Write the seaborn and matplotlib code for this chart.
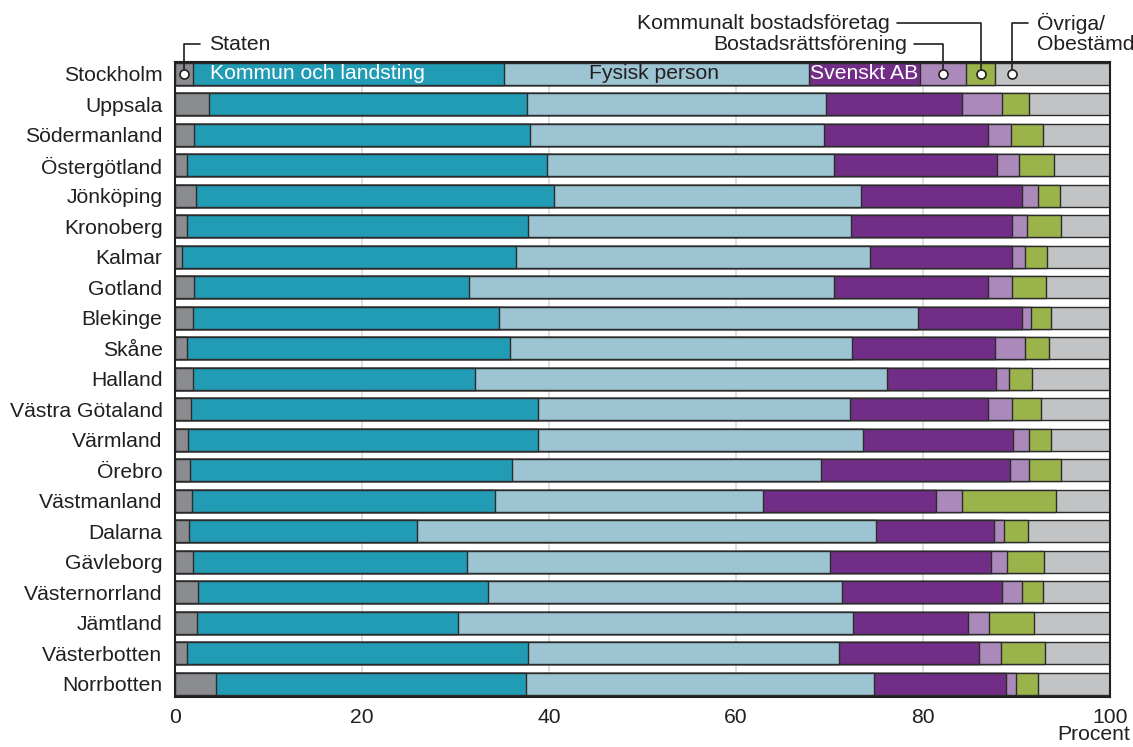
import pandas as pd
import numpy as np
import matplotlib
matplotlib.use('Agg')
import matplotlib.pyplot as plt
import seaborn as sns

regions = ['Stockholm', 'Uppsala', 'Södermanland', 'Östergötland', 'Jönköping',
           'Kronoberg', 'Kalmar', 'Gotland', 'Blekinge', 'Skåne', 'Halland',
           'Västra Götaland', 'Värmland', 'Örebro', 'Västmanland', 'Dalarna',
           'Gävleborg', 'Västernorrland', 'Jämtland', 'Västerbotten', 'Norrbotten']

staten = [1.9, 3.6, 2.0, 1.3, 2.2, 1.3, 0.8, 2.0, 1.9, 1.3, 1.9,
          1.7, 1.4, 1.6, 1.8, 1.5, 1.9, 2.5, 2.3, 1.3, 4.4]
kommun = [33.3, 34.0, 36.0, 38.5, 38.3, 36.5, 35.7, 29.4, 32.7, 34.5, 30.2,
          37.1, 37.4, 34.4, 32.4, 24.4, 29.3, 31.0, 28.0, 36.5, 33.1]
fysisk = [32.6, 32.0, 31.4, 30.7, 32.9, 34.5, 37.8, 39.1, 44.9, 36.6, 44.0,
          33.4, 34.8, 33.1, 28.7, 49.1, 38.8, 37.8, 42.2, 33.2, 37.3]
svenskt_ab = [11.9, 14.6, 17.6, 17.4, 17.2, 17.2, 15.2, 16.4, 11.1, 15.3, 11.7,
              14.7, 16.0, 20.2, 18.5, 12.6, 17.3, 17.2, 12.3, 15.0, 14.1]
brf = [4.9, 4.2, 2.4, 2.4, 1.7, 1.6, 1.4, 2.6, 0.9, 3.2, 1.4,
       2.6, 1.7, 2.0, 2.8, 1.1, 1.7, 2.1, 2.3, 2.3, 1.1]
kommunalt = [3.1, 2.9, 3.4, 3.7, 2.4, 3.7, 2.4, 3.7, 2.2, 2.6, 2.5,
             3.1, 2.4, 3.5, 10.0, 2.5, 3.9, 2.2, 4.8, 4.8, 2.3]
ovriga = [12.3, 8.7, 7.2, 6.0, 5.3, 5.2, 6.7, 6.8, 6.3, 6.5, 8.3,
          7.4, 6.3, 5.2, 5.8, 8.8, 7.1, 7.2, 8.1, 6.9, 7.7]

categories = ['Staten', 'Kommun och landsting', 'Fysisk person', 'Svenskt AB',
              'Bostadsrättsförening', 'Kommunalt bostadsföretag', 'Övriga/Obestämd']
colors = ['#8b8c8f', '#219cb4', '#9cc4d2', '#722e87', '#ab89ba', '#9ab34b', '#c2c3c4']

df = pd.DataFrame({'lan': regions, 'Staten': staten, 'Kommun och landsting': kommun,
                   'Fysisk person': fysisk, 'Svenskt AB': svenskt_ab,
                   'Bostadsrättsförening': brf, 'Kommunalt bostadsföretag': kommunalt,
                   'Övriga/Obestämd': ovriga})
cum = df[categories].cumsum(axis=1)
cum['lan'] = df['lan']

sns.set_theme(style='white')
plt.rcParams['font.family'] = ['Liberation Sans', 'DejaVu Sans']
txt = '#231f20'

fig = plt.figure(figsize=(11.33, 7.47), dpi=100)
ax = fig.add_axes([175/1133, 1-697/747, 935/1133, 635/747])

# stacked bars: draw cumulative totals from largest to smallest
for cat, col in reversed(list(zip(categories, colors))):
    sns.barplot(data=cum, x=cat, y='lan', order=regions, color=col, saturation=1,
                width=0.72, edgecolor='#2b2b2b', linewidth=1, ax=ax, zorder=3)

ax.set_xlim(0, 100)
ax.set_ylim(20.43, -0.39)
ax.set_xlabel('')
ax.set_ylabel('')
ax.set_xticks([0, 20, 40, 60, 80, 100])
ax.set_axisbelow(True)
ax.xaxis.grid(True, color='#dadada', lw=1.2)
ax.yaxis.grid(False)
ax.tick_params(axis='both', length=0, labelsize=15.2, colors=txt)
ax.tick_params(axis='y', pad=9)
ax.tick_params(axis='x', pad=8)
for s in ax.spines.values():
    s.set_color('#231f20')
    s.set_linewidth(1.5)
    s.set_zorder(6)

# labels inside the Stockholm bar
s0 = cum.iloc[0]
ax.text(s0['Staten'] + 1.85, 0, 'Kommun och landsting', color='white', fontsize=15.2,
        ha='left', va='center', zorder=7)
ax.text((s0['Kommun och landsting'] + s0['Fysisk person']) / 2 - 0.3, 0, 'Fysisk person',
        color=txt, fontsize=15.2, ha='center', va='center', zorder=7)
ax.text((s0['Fysisk person'] + s0['Svenskt AB']) / 2, 0, 'Svenskt AB', color='white',
        fontsize=15.2, ha='center', va='center', zorder=7)

# callouts with small circles
x_staten = s0['Staten'] / 2
x_brf = (s0['Svenskt AB'] + s0['Bostadsrättsförening']) / 2
x_kom = (s0['Bostadsrättsförening'] + s0['Kommunalt bostadsföretag']) / 2
x_ovr = s0['Kommunalt bostadsföretag'] + 1.8
y_low, y_high = -0.98, -1.66

ax.plot([x_staten, x_staten, 2.7], [-0.15, y_low, y_low], color=txt, lw=1.2, clip_on=False, zorder=7)
ax.text(3.6, y_low, 'Staten', color=txt, fontsize=15.2, ha='left', va='center')

ax.plot([x_brf, x_brf, 79.0], [-0.15, y_low, y_low], color=txt, lw=1.2, clip_on=False, zorder=7)
ax.text(78.3, y_low, 'Bostadsrättsförening', color=txt, fontsize=15.2, ha='right', va='center')

ax.plot([x_kom, x_kom, 77.2], [-0.15, y_high, y_high], color=txt, lw=1.2, clip_on=False, zorder=7)
ax.text(76.4, y_high, 'Kommunalt bostadsföretag', color=txt, fontsize=15.2, ha='right', va='center')

ax.plot([x_ovr, x_ovr, 91.2], [-0.15, y_high, y_high], color=txt, lw=1.2, clip_on=False, zorder=7)
ax.text(92.2, y_high - 0.33, 'Övriga/\nObestämd', color=txt, fontsize=15.2, ha='left', va='top',
        linespacing=1.05)

ax.plot([x_staten, x_brf, x_kom, x_ovr], [0, 0, 0, 0], 'o', ms=6.5, mfc='white',
        mec=txt, mew=1.2, zorder=8, clip_on=False)

fig.text(1130/1133, 1-735/747, 'Procent', color=txt, fontsize=15.2, ha='right', va='center')

plt.savefig('out.png', dpi=100)
